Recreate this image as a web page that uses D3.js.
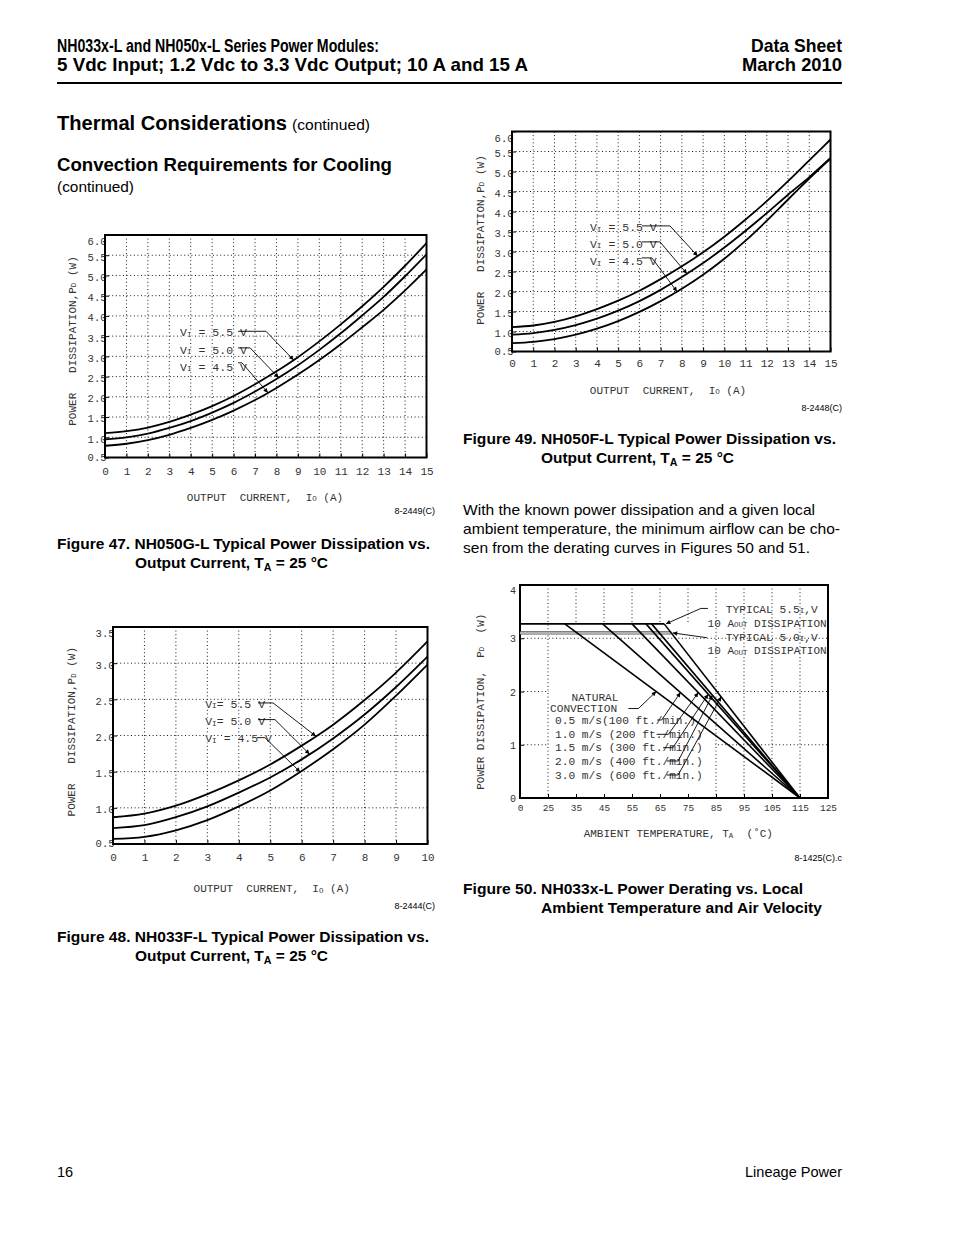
<!DOCTYPE html>
<html><head><meta charset="utf-8">
<script src="https://cdn.jsdelivr.net/npm/d3@7"></script>
<style>body{margin:0;background:#fff}svg{display:block}text{white-space:pre}</style>
</head><body>
<script>
// ===================== DATA =====================
// Figure 47: NH050G-L typical power dissipation (W) vs output current (A)
const fig47Current = [0,1,2,3,4,5,6,7,8,9,10,11,12,13,14,15];
const fig47Vin55 = [1.10,1.15,1.24,1.38,1.56,1.77,2.02,2.31,2.63,2.98,3.37,3.79,4.24,4.72,5.24,5.80];
const fig47Vin50 = [0.95,1.00,1.09,1.23,1.40,1.61,1.85,2.13,2.44,2.78,3.16,3.57,4.01,4.47,4.98,5.52];
const fig47Vin45 = [0.79,0.84,0.93,1.06,1.23,1.43,1.66,1.92,2.22,2.55,2.91,3.30,3.72,4.15,4.63,5.15];
const fig47YTicks = [0.5,1.0,1.5,2.0,2.5,3.0,3.5,4.0,4.5,5.0,5.5,6.0];

// Figure 49: NH050F-L
const fig49Current = [0,1,2,3,4,5,6,7,8,9,10,11,12,13,14,15];
const fig49Vin55 = [1.11,1.15,1.24,1.38,1.56,1.77,2.02,2.31,2.63,2.98,3.37,3.80,4.26,4.76,5.28,5.80];
const fig49Vin50 = [0.92,0.96,1.04,1.16,1.32,1.52,1.76,2.04,2.36,2.71,3.10,3.52,3.96,4.42,4.86,5.34];
const fig49Vin45 = [0.71,0.74,0.81,0.92,1.07,1.26,1.49,1.76,2.07,2.42,2.82,3.27,3.77,4.30,4.82,5.32];
const fig49YTicks = [0.5,1.0,1.5,2.0,2.5,3.0,3.5,4.0,4.5,5.0,5.5,6.0];

// Figure 48: NH033F-L
const fig48Current = [0,1,2,3,4,5,6,7,8,9,10];
const fig48Vin55 = [0.87,0.92,1.03,1.19,1.38,1.60,1.86,2.15,2.49,2.87,3.30];
const fig48Vin50 = [0.72,0.76,0.87,1.02,1.21,1.42,1.67,1.96,2.29,2.67,3.09];
const fig48Vin45 = [0.57,0.60,0.69,0.83,1.02,1.24,1.51,1.81,2.15,2.55,2.98];
const fig48YTicks = [0.5,1.0,1.5,2.0,2.5,3.0,3.5];

const vinLabels = ["5.5","5.0","4.5"];

// Figure 50: NH033x-L power derating
const fig50XTicks = [0,25,35,45,55,65,75,85,95,105,115,125];
const fig50YTicks = [0,1,2,3,4];
const fig50Airflow = ["NATURAL CONVECTION","0.5 m/s(100 ft./min.)","1.0 m/s (200 ft./min.)",
                      "1.5 m/s (300 ft./min.)","2.0 m/s (400 ft./min.)","3.0 m/s (600 ft./min.)"];
const fig50StartTemp = [31,44.5,55,60,62,66.5];   // °C where each derating line leaves the max dissipation
const fig50ZeroTemp = 115;                         // °C where all lines reach 0 W
const fig50Typical55 = 3.27;                       // W, typical 5.5 V, 10 A dissipation
const fig50Typical50 = 3.10;                       // W, typical 5.0 V, 10 A dissipation

// ===================== DRAWING =====================
const W = 954, H = 1235;
const MONO = "'Liberation Mono','Courier New','DejaVu Sans Mono',monospace";
const SANS = "'Liberation Sans',Arial,Helvetica,sans-serif";
const INK = "#333";
const svg = d3.select("body").append("svg").attr("width", W).attr("height", H);
svg.append("rect").attr("width", W).attr("height", H).attr("fill", "#fff");
const defs = svg.append("defs");
defs.append("marker").attr("id", "arr").attr("viewBox", "0 0 10 10").attr("refX", 10).attr("refY", 5)
  .attr("markerWidth", 7).attr("markerHeight", 4.5).attr("markerUnits", "userSpaceOnUse").attr("orient", "auto")
  .append("path").attr("d", "M0,0L10,5L0,10z").attr("fill", "#000");

function label(g, x, y, parts, o = {}) {
  const t = g.append("text").attr("x", x).attr("y", y)
    .attr("font-family", o.family || MONO).attr("font-size", o.size || 11)
    .attr("fill", o.fill || INK);
  if (o.anchor) t.attr("text-anchor", o.anchor);
  if (o.weight) t.attr("font-weight", o.weight);
  if (o.rotate) t.attr("transform", `rotate(-90 ${x} ${y})`);
  if (o.halo) t.attr("stroke", "#fff").attr("stroke-width", o.halo).attr("paint-order", "stroke").attr("stroke-linejoin", "round");
  let shift = 0;
  (typeof parts === "string" ? [{ t: parts }] : parts).forEach(p => {
    const ts = t.append("tspan").text(p.t);
    const want = p.sub ? (p.dy != null ? p.dy : 1) : 0;
    if (want !== shift) { ts.attr("dy", want - shift); shift = want; }
    if (p.sub) ts.attr("font-size", p.size || (o.size || 11) * 0.68);
    if (p.dx) ts.attr("dx", p.dx);
  });
  if (o.len) t.attr("textLength", o.len).attr("lengthAdjust", "spacingAndGlyphs");
  return t;
}

function interp(xs, ys, xv) {
  const i = Math.min(Math.max(d3.bisectRight(xs, xv) - 1, 0), xs.length - 2);
  const f = (xv - xs[i]) / (xs[i + 1] - xs[i]);
  return ys[i] * (1 - f) + ys[i + 1] * f;
}

function powerChart(o) {
  const g = svg.append("g");
  const x = d3.scaleLinear().domain(d3.extent(o.current)).range([o.left, o.right]);
  const y = d3.scaleLinear().domain(d3.extent(o.yTicks)).range([o.bottom, o.top]);
  const dash = "1,2.6";
  g.append("g").selectAll("line").data(o.current.slice(1, -1)).join("line")
    .attr("x1", d => x(d)).attr("x2", d => x(d)).attr("y1", o.top).attr("y2", o.bottom)
    .attr("stroke", "#000").attr("stroke-width", 0.9).attr("stroke-dasharray", dash);
  g.append("g").selectAll("line").data(o.yTicks.slice(1, -1)).join("line")
    .attr("y1", d => y(d)).attr("y2", d => y(d)).attr("x1", o.left).attr("x2", o.right)
    .attr("stroke", "#000").attr("stroke-width", 0.9).attr("stroke-dasharray", dash);

  const ax = g.append("g").attr("transform", `translate(0,${o.bottom})`)
    .call(d3.axisBottom(x).tickValues(o.current).tickFormat(d3.format("d")).tickSize(-4).tickPadding(o.xPad));
  ax.select(".domain").remove();
  ax.attr("font-family", MONO).attr("font-size", 11);
  ax.selectAll(".tick text").attr("fill", INK);
  const ymax = d3.max(o.yTicks), ymin = d3.min(o.yTicks);
  const ay = g.append("g").attr("transform", `translate(${o.left},0)`)
    .call(d3.axisLeft(y).tickValues(o.yTicks).tickFormat(d3.format(".1f")).tickSize(-4).tickPadding(-1.5));
  ay.select(".domain").remove();
  ay.attr("font-family", MONO).attr("font-size", 10.5);
  ay.selectAll(".tick text").attr("fill", INK)
    .attr("dy", d => d === ymax ? "0.95em" : d === ymin ? "0.25em" : "0.47em");

  g.append("rect").attr("x", o.left).attr("y", o.top).attr("width", o.right - o.left)
    .attr("height", o.bottom - o.top).attr("fill", "none").attr("stroke", "#000").attr("stroke-width", 2);

  // labels (under the curves)
  o.labels.forEach((L, k) => {
    label(g, x(L.lx), y(L.ly) + 4, [{ t: "V" }, { t: "I", sub: true, dy: 0.5 }, { t: L.sep + vinLabels[k] + " V" }],
      { size: 11.5, halo: 2 });
  });

  const line = d3.line().x((d, i) => x(o.current[i])).y(d => y(d)).curve(d3.curveMonotoneX);
  o.series.forEach(s => g.append("path").attr("d", line(s)).attr("fill", "none")
    .attr("stroke", "#000").attr("stroke-width", 1.8));

  o.labels.forEach((L, k) => {
    const s = o.series[k];
    const tipY = interp(o.current, s, L.tip);
    g.append("path")
      .attr("d", `M${x(L.hx0)},${y(L.hy)}H${x(L.hx1)}L${x(L.tip)},${y(tipY)}`)
      .attr("fill", "none").attr("stroke", "#000").attr("stroke-width", 0.9).attr("marker-end", "url(#arr)");
  });

  // axis titles
  label(g, o.xTitle[0], o.xTitle[1] + 3.8,
    [{ t: "OUTPUT  CURRENT,  I" }, { t: "O", sub: true, dy: 0.5 }, { t: " (A)" }], { anchor: "middle" });
  label(g, o.yTitle[0] + 3.8, o.yTitle[1],
    [{ t: "POWER   DISSIPATION,P" }, { t: "D", sub: true, dy: 0.5 }, { t: " (W)" }], { anchor: "middle", rotate: true });
  label(g, o.code[0], o.code[1], o.code[2], { family: SANS, size: 9, anchor: "end", fill: "#000" });
}

// Figure 47
powerChart({
  current: fig47Current, series: [fig47Vin55, fig47Vin50, fig47Vin45], yTicks: fig47YTicks,
  left: 105, right: 426.5, top: 235, bottom: 457.5, xPad: 9.6,
  labels: [
    { lx: 3.5, ly: 3.60, hy: 3.62, hx0: 6.21, hx1: 7.51, tip: 8.8, sep: " = " },
    { lx: 3.5, ly: 3.16, hy: 3.21, hx0: 6.21, hx1: 6.77, tip: 8.1, sep: " = " },
    { lx: 3.5, ly: 2.74, hy: 2.84, hx0: 6.21, hx1: 6.39, tip: 7.6, sep: " = " }],
  xTitle: [265, 496.7], yTitle: [71.7, 341], code: [435, 514, "8-2449(C)"]
});
// Figure 49
powerChart({
  current: fig49Current, series: [fig49Vin55, fig49Vin50, fig49Vin45], yTicks: fig49YTicks,
  left: 512, right: 830.5, top: 131.5, bottom: 351.5, xPad: 7.4,
  labels: [
    { lx: 3.67, ly: 3.61, hy: 3.64, hx0: 6.12, hx1: 7.44, tip: 8.74, sep: " = " },
    { lx: 3.67, ly: 3.19, hy: 3.24, hx0: 6.12, hx1: 6.97, tip: 8.24, sep: " = " },
    { lx: 3.67, ly: 2.76, hy: 2.84, hx0: 6.12, hx1: 6.59, tip: 7.77, sep: " = " }],
  xTitle: [668, 390], yTitle: [480, 240], code: [842, 411, "8-2448(C)"]
});
// Figure 48
powerChart({
  current: fig48Current, series: [fig48Vin55, fig48Vin50, fig48Vin45], yTicks: fig48YTicks,
  left: 113, right: 427.5, top: 627, bottom: 844, xPad: 8.8,
  labels: [
    { lx: 2.93, ly: 2.44, hy: 2.45, hx0: 4.61, hx1: 5.09, tip: 6.45, sep: "= " },
    { lx: 2.93, ly: 2.20, hy: 2.22, hx0: 4.61, hx1: 5.15, tip: 6.25, sep: "= " },
    { lx: 2.93, ly: 1.96, hy: 1.97, hx0: 4.58, hx1: 4.83, tip: 5.95, sep: " = " }],
  xTitle: [271.7, 888.3], yTitle: [71.7, 731.7], code: [435, 909, "8-2444(C)"]
});

// Figure 50
(function () {
  const g = svg.append("g");
  const left = 520, right = 828, top = 585, bottom = 798;
  const n = fig50XTicks.length - 1;
  const x = d3.scaleLinear()
    .domain([fig50XTicks[0], fig50XTicks[1], fig50XTicks[n]])
    .range([left, left + (right - left) / n, right]);
  const y = d3.scaleLinear().domain(d3.extent(fig50YTicks)).range([bottom, top]);
  const dash = "1,2.6";
  const inner = fig50XTicks.slice(1, -1);
  g.append("g").selectAll("line").data(inner).join("line")
    .attr("x1", d => x(d)).attr("x2", d => x(d)).attr("y1", top)
    .attr("y2", d => (d > fig50XTicks[1] && d < 85) ? y(fig50Typical55) : bottom)
    .attr("stroke", "#000").attr("stroke-width", 0.9).attr("stroke-dasharray", dash);
  g.append("g").selectAll("line").data(fig50YTicks.slice(1, -1)).join("line")
    .attr("y1", d => y(d)).attr("y2", d => y(d)).attr("x1", left).attr("x2", right)
    .attr("stroke", "#000").attr("stroke-width", 0.9).attr("stroke-dasharray", dash);
  // white block behind the airflow legend
  g.append("rect").attr("x", x(25) + 1).attr("y", y(2.06)).attr("width", x(85) - x(25) - 2)
    .attr("height", y(0.15) - y(2.06)).attr("fill", "#fff");

  const ax = g.append("g").attr("transform", `translate(0,${bottom})`)
    .call(d3.axisBottom(x).tickValues(fig50XTicks).tickFormat(d3.format("d")).tickSize(-4).tickPadding(6.6));
  ax.select(".domain").remove();
  ax.attr("font-family", MONO).attr("font-size", 9.5);
  ax.selectAll(".tick text").attr("fill", INK);
  const ay = g.append("g").attr("transform", `translate(${left},0)`)
    .call(d3.axisLeft(y).tickValues(fig50YTicks).tickFormat(d3.format("d")).tickSize(-4).tickPadding(4));
  ay.select(".domain").remove();
  ay.attr("font-family", MONO).attr("font-size", 10);
  ay.selectAll(".tick text").attr("fill", INK).attr("dy", d => d === 4 ? "0.8em" : "0.35em");
  g.append("rect").attr("x", left).attr("y", top).attr("width", right - left).attr("height", bottom - top)
    .attr("fill", "none").attr("stroke", "#000").attr("stroke-width", 2);

  // legend text
  const sz = 11.2;
  label(g, x(41.8), y(1.89) + 3.8, "NATURAL", { anchor: "middle", size: sz });
  label(g, x(25.7), y(1.68) + 3.8, "CONVECTION", { size: sz });
  const rows = [1.465, 1.196, 0.945, 0.695, 0.432];
  fig50Airflow.slice(1).forEach((t, i) => label(g, x(27.5), y(rows[i]) + 3.8, t, { size: sz }));
  label(g, x(88.5), y(3.55) + 3.8, [{ t: "TYPICAL 5.5" }, { t: "I", sub: true, dy: 0.5 }, { t: ",V" }], { size: sz });
  label(g, x(82.0), y(3.29) + 3.8, [{ t: "10 A" }, { t: "OUT", sub: true, dy: 0.5 }, { t: " DISSIPATION" }], { size: 11 });
  label(g, x(88.5), y(3.02) + 3.8, [{ t: "TYPICAL 5.0" }, { t: "I", sub: true, dy: 0.5 }, { t: ",V" }], { size: sz });
  label(g, x(82.0), y(2.77) + 3.8, [{ t: "10 A" }, { t: "OUT", sub: true, dy: 0.5 }, { t: " DISSIPATION" }], { size: 11 });

  // dissipation levels
  const last = fig50StartTemp[fig50StartTemp.length - 1];
  const end50 = last + (fig50ZeroTemp - last) * (1 - fig50Typical50 / fig50Typical55);
  g.append("line").attr("x1", x(0)).attr("x2", x(end50)).attr("y1", y(fig50Typical50)).attr("y2", y(fig50Typical50))
    .attr("stroke", "#555").attr("stroke-width", 3.2);
  g.append("line").attr("x1", x(0)).attr("x2", x(end50)).attr("y1", y(fig50Typical50)).attr("y2", y(fig50Typical50))
    .attr("stroke", "#cfcfcf").attr("stroke-width", 1.4);
  g.append("line").attr("x1", x(0)).attr("x2", x(last)).attr("y1", y(fig50Typical55)).attr("y2", y(fig50Typical55))
    .attr("stroke", "#000").attr("stroke-width", 1.6);
  // derating lines
  g.append("g").selectAll("line").data(fig50StartTemp).join("line")
    .attr("x1", d => x(d)).attr("y1", y(fig50Typical55)).attr("x2", x(fig50ZeroTemp)).attr("y2", y(0))
    .attr("stroke", "#000").attr("stroke-width", 1.6);

  // leaders
  const onLine = (k, p) => fig50ZeroTemp - (fig50ZeroTemp - fig50StartTemp[k]) * p / fig50Typical55;
  const lead = (pts) => g.append("path").attr("d", d3.line()(pts.map(([a, b]) => [x(a), y(b)])))
    .attr("fill", "none").attr("stroke", "#000").attr("stroke-width", 0.9).attr("marker-end", "url(#arr)");
  lead([[53.7, 1.68], [57.3, 1.68], [onLine(0, 2.0), 2.0]]);
  const legX = [[64.0, 65.6], [63.8, 68.0], [66.1, 69.6], [67.4, 71.5], [67.4, 71.5]];
  const tipP = [1.98, 1.98, 1.95, 1.93, 1.9];
  legX.forEach((h, i) => lead([[h[0], rows[i]], [h[1], rows[i]], [onLine(i + 1, tipP[i]), tipP[i]]]));
  lead([[82.1, 3.56], [79.6, 3.56], [last + 0.6, fig50Typical55]]);
  lead([[81.8, 3.01], [end50 + 0.5, fig50Typical50]]);

  label(g, 678.3, 833.3 + 3.8, [{ t: "AMBIENT TEMPERATURE, T" }, { t: "A", sub: true, dy: 0.5 }, { t: "  (˚C)" }],
    { anchor: "middle", size: 11 });
  label(g, 480 + 3.8, 701.7, [{ t: "POWER DISSIPATION,  P" }, { t: "D", sub: true, dy: 0.5 }, { t: "  (W)" }],
    { anchor: "middle", rotate: true, size: 11 });
  label(g, 842, 861, "8-1425(C).c", { family: SANS, size: 9, anchor: "end", fill: "#000" });
})();

// ===================== PAGE TEXT =====================
const pg = svg.append("g");
const B = { family: SANS, weight: "bold", fill: "#000" };
label(pg, 57, 51.5, "NH033x-L and NH050x-L Series Power Modules:", { ...B, size: 18.5, len: 322 });
label(pg, 57, 70.5, "5 Vdc Input; 1.2 Vdc to 3.3 Vdc Output; 10 A and 15 A", { ...B, size: 18.5, len: 471 });
label(pg, 842, 51.5, "Data Sheet", { ...B, size: 18.5, anchor: "end", len: 91 });
label(pg, 842, 70.5, "March 2010", { ...B, size: 18.5, anchor: "end", len: 100 });
pg.append("line").attr("x1", 57).attr("x2", 842).attr("y1", 83).attr("y2", 83).attr("stroke", "#000").attr("stroke-width", 2);

label(pg, 57, 130, "Thermal Considerations", { ...B, size: 20, len: 230 });
label(pg, 292, 130, "(continued)", { family: SANS, size: 14.5, fill: "#000", len: 78 });
label(pg, 57, 170.5, "Convection Requirements for Cooling", { ...B, size: 18, len: 335 });
label(pg, 57, 192, "(continued)", { family: SANS, size: 14.5, fill: "#000", len: 77 });

const capT = [{ t: "Output Current, T" }, { t: "A", sub: true, dy: 3, size: 10 }, { t: " = 25 °C" }];
label(pg, 57, 549, "Figure 47. NH050G-L Typical Power Dissipation vs.", { ...B, size: 14.5, len: 373 });
label(pg, 135, 567.5, capT, { ...B, size: 14.5, len: 193 });
label(pg, 57, 942, "Figure 48. NH033F-L Typical Power Dissipation vs.", { ...B, size: 14.5, len: 372 });
label(pg, 135, 960.5, capT, { ...B, size: 14.5, len: 193 });
label(pg, 463, 444, "Figure 49. NH050F-L Typical Power Dissipation vs.", { ...B, size: 14.5, len: 373 });
label(pg, 541, 462.5, capT, { ...B, size: 14.5, len: 193 });
label(pg, 463, 894, "Figure 50. NH033x-L Power Derating vs. Local", { ...B, size: 14.5, len: 340 });
label(pg, 541, 912.5, "Ambient Temperature and Air Velocity", { ...B, size: 14.5, len: 281 });

const P = { family: SANS, size: 14.5, fill: "#000" };
label(pg, 463, 515, "With the known power dissipation and a given local", { ...P, len: 352 });
label(pg, 463, 534, "ambient temperature, the minimum airflow can be cho-", { ...P, len: 377 });
label(pg, 463, 553, "sen from the derating curves in Figures 50 and 51.", { ...P, len: 347 });

label(pg, 57, 1177, "16", { ...P });
label(pg, 842, 1177, "Lineage Power", { ...P, anchor: "end", len: 97 });
</script>
</body></html>
